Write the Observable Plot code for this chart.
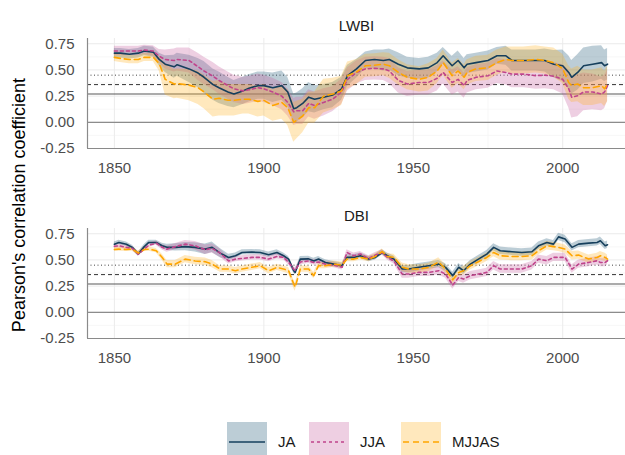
<!DOCTYPE html>
<html><head><meta charset="utf-8">
<script src="https://cdn.jsdelivr.net/npm/d3@7"></script>
<script src="https://cdn.jsdelivr.net/npm/@observablehq/plot@0.6"></script>
<style>
html,body{margin:0;padding:0;background:#fff;}
#wrap{position:relative;width:625px;height:455px;overflow:hidden;font-family:"Liberation Sans",Arial,Helvetica,sans-serif;background:#fff;}
.panel{position:absolute;left:0;}
.panel svg text{font-size:15px !important;font-family:"Liberation Sans",Arial,Helvetica,sans-serif !important;}
#ytitle{position:absolute;left:19px;top:205px;transform:translate(-50%,-50%) rotate(-90deg);font-size:18px;white-space:nowrap;color:#000;}
#legend{position:absolute;top:422px;left:0;}
</style></head><body><div id="wrap"><div id="p1" class="panel" style="top:0"></div><div id="p2" class="panel" style="top:190px"></div><div id="ytitle">Pearson's correlation coefficient</div><div id="legend"></div></div>
<script>
// ---- labels / ticks ----
const seriesNames = ["JA", "JJA", "MJJAS"];
const panelTitles = ["LWBI", "DBI"];
const xTicks = [1850, 1900, 1950, 2000];
const xMinorTicks = [1875, 1925, 1975];
const yTicks = [-0.25, 0, 0.25, 0.5, 0.75];
const yMinorTicks = [-0.125, 0.125, 0.375, 0.625];
const thresholds = [0.27, 0.36, 0.45];
const xDomain = [1841, 2021];
const yDomain = [-0.25, 0.80];

// ---- LWBI panel ----
const lwbiYears = [1850,1852,1855,1858,1860,1863,1865,1867,1870,1871,1875,1878,1880,1883,1885,1888,1890,1893,1895,1898,1900,1903,1906,1908,1910,1911,1913,1915,1917,1920,1923,1926,1928,1931,1934,1937,1940,1942,1945,1948,1952,1955,1958,1960,1963,1965,1967,1968,1971,1975,1978,1981,1983,1987,1991,1994,1997,2000,2002,2003,2005,2007,2010,2013,2014,2015];
const lwbiJA = [0.66,0.66,0.65,0.66,0.68,0.67,0.60,0.555,0.53,0.55,0.51,0.47,0.43,0.36,0.33,0.29,0.27,0.30,0.325,0.35,0.35,0.33,0.35,0.29,0.13,0.14,0.18,0.24,0.22,0.24,0.26,0.32,0.445,0.51,0.59,0.60,0.59,0.60,0.555,0.52,0.51,0.52,0.57,0.635,0.54,0.59,0.52,0.555,0.57,0.59,0.635,0.635,0.59,0.59,0.59,0.59,0.555,0.54,0.476,0.43,0.476,0.54,0.555,0.57,0.54,0.555];
const lwbiJJA = [0.68,0.68,0.68,0.68,0.69,0.68,0.63,0.60,0.59,0.60,0.59,0.53,0.49,0.44,0.40,0.35,0.32,0.30,0.31,0.33,0.32,0.29,0.25,0.19,0.10,0.11,0.11,0.18,0.16,0.19,0.22,0.29,0.41,0.476,0.51,0.515,0.51,0.49,0.40,0.366,0.38,0.38,0.42,0.476,0.38,0.41,0.35,0.40,0.43,0.445,0.49,0.476,0.46,0.46,0.445,0.45,0.44,0.41,0.32,0.24,0.254,0.29,0.29,0.27,0.29,0.35];
const lwbiMJJAS = [0.62,0.61,0.60,0.60,0.62,0.62,0.56,0.41,0.365,0.37,0.355,0.33,0.29,0.22,0.23,0.21,0.21,0.22,0.22,0.20,0.21,0.16,0.19,0.14,0.0,0.02,0.06,0.14,0.14,0.25,0.27,0.30,0.445,0.48,0.54,0.545,0.555,0.54,0.476,0.43,0.41,0.43,0.49,0.57,0.445,0.49,0.43,0.476,0.51,0.52,0.57,0.60,0.59,0.59,0.60,0.59,0.57,0.51,0.38,0.35,0.366,0.33,0.33,0.35,0.32,0.366];
const lwbiJAHalf = [0.045,0.045,0.045,0.045,0.045,0.05,0.06,0.08,0.11,0.11,0.13,0.14,0.15,0.15,0.15,0.14,0.13,0.13,0.13,0.13,0.13,0.14,0.14,0.14,0.14,0.14,0.14,0.14,0.13,0.12,0.12,0.11,0.10,0.09,0.08,0.09,0.10,0.10,0.11,0.10,0.10,0.10,0.09,0.08,0.09,0.09,0.09,0.09,0.09,0.09,0.08,0.09,0.10,0.10,0.10,0.11,0.13,0.15,0.16,0.16,0.17,0.17,0.17,0.16,0.15,0.15];
const lwbiJJAHalf = [0.045,0.045,0.045,0.045,0.045,0.05,0.065,0.09,0.11,0.11,0.12,0.13,0.13,0.13,0.13,0.13,0.13,0.13,0.13,0.13,0.13,0.13,0.13,0.13,0.13,0.13,0.13,0.13,0.13,0.13,0.12,0.12,0.11,0.11,0.11,0.11,0.11,0.12,0.12,0.12,0.12,0.12,0.12,0.11,0.12,0.12,0.12,0.12,0.12,0.12,0.12,0.12,0.13,0.13,0.13,0.13,0.13,0.14,0.18,0.20,0.20,0.18,0.17,0.16,0.16,0.15];
const lwbiMJJASHalf = [0.04,0.04,0.04,0.04,0.04,0.04,0.07,0.15,0.14,0.14,0.15,0.16,0.16,0.17,0.17,0.15,0.15,0.14,0.14,0.15,0.15,0.15,0.16,0.17,0.19,0.18,0.16,0.15,0.15,0.16,0.15,0.14,0.13,0.12,0.11,0.11,0.11,0.12,0.12,0.12,0.12,0.13,0.12,0.12,0.12,0.12,0.12,0.12,0.12,0.12,0.12,0.12,0.13,0.13,0.13,0.13,0.14,0.14,0.16,0.16,0.17,0.17,0.17,0.17,0.17,0.17];

// ---- DBI panel ----
const dbiYears = [1850,1851.5,1854,1856,1858,1860,1861.5,1864,1866,1867.6,1870.4,1873.7,1877,1880.4,1882.7,1885.4,1888.2,1890.5,1892.7,1896,1898.8,1901.6,1904.4,1906.6,1908.3,1910,1910.5,1912.2,1915,1916.7,1918.3,1920.6,1923.4,1926.2,1927.8,1930.1,1932.3,1935.1,1937.3,1939.6,1941.3,1943.5,1946.3,1948.5,1951.8,1955.2,1958.5,1960.8,1963.2,1965.2,1966.8,1969.1,1971.8,1974.6,1976.9,1979.1,1983,1986.3,1989.7,1991.9,1994.7,1996.9,1998.6,2000.8,2003.1,2005.3,2008.7,2011.5,2012.6,2014.2,2015];
const dbiJA = [0.65,0.667,0.65,0.62,0.556,0.627,0.667,0.667,0.635,0.62,0.62,0.627,0.62,0.603,0.62,0.565,0.524,0.54,0.571,0.575,0.571,0.55,0.571,0.54,0.508,0.397,0.38,0.508,0.51,0.49,0.508,0.476,0.46,0.445,0.524,0.524,0.54,0.508,0.524,0.571,0.54,0.508,0.413,0.413,0.43,0.445,0.46,0.429,0.35,0.43,0.397,0.46,0.508,0.556,0.62,0.588,0.578,0.571,0.578,0.635,0.667,0.651,0.72,0.70,0.62,0.651,0.66,0.667,0.683,0.635,0.645];
const dbiJJA = [0.63,0.635,0.62,0.61,0.556,0.603,0.64,0.66,0.62,0.603,0.627,0.651,0.635,0.597,0.61,0.565,0.49,0.508,0.514,0.524,0.524,0.508,0.533,0.524,0.476,0.413,0.40,0.48,0.49,0.476,0.48,0.46,0.45,0.43,0.571,0.54,0.556,0.514,0.546,0.571,0.524,0.49,0.365,0.365,0.381,0.381,0.397,0.365,0.26,0.333,0.317,0.35,0.365,0.381,0.445,0.413,0.413,0.413,0.445,0.508,0.492,0.524,0.524,0.524,0.413,0.46,0.476,0.492,0.476,0.476,0.492];
const dbiMJJAS = [0.60,0.603,0.60,0.603,0.565,0.60,0.603,0.588,0.524,0.46,0.46,0.508,0.49,0.483,0.46,0.413,0.413,0.397,0.413,0.43,0.445,0.397,0.429,0.413,0.397,0.27,0.24,0.413,0.413,0.35,0.445,0.445,0.46,0.45,0.508,0.508,0.524,0.508,0.533,0.58,0.533,0.524,0.43,0.413,0.413,0.429,0.48,0.413,0.31,0.381,0.397,0.445,0.483,0.524,0.571,0.54,0.533,0.533,0.54,0.588,0.635,0.627,0.62,0.603,0.54,0.546,0.508,0.524,0.54,0.524,0.508];
const dbiJAHalf = [0.02,0.02,0.02,0.02,0.02,0.02,0.02,0.02,0.025,0.03,0.035,0.04,0.045,0.05,0.05,0.045,0.03,0.025,0.025,0.025,0.025,0.025,0.025,0.025,0.025,0.025,0.025,0.025,0.025,0.025,0.025,0.025,0.025,0.025,0.025,0.025,0.025,0.025,0.025,0.025,0.025,0.03,0.035,0.035,0.035,0.035,0.035,0.035,0.035,0.035,0.035,0.035,0.035,0.035,0.035,0.035,0.035,0.035,0.035,0.035,0.035,0.035,0.035,0.035,0.035,0.035,0.035,0.035,0.035,0.035,0.035];
const dbiJJAHalf = [0.02,0.02,0.02,0.02,0.02,0.02,0.02,0.02,0.025,0.03,0.03,0.035,0.04,0.045,0.045,0.04,0.03,0.025,0.025,0.025,0.025,0.025,0.025,0.025,0.025,0.025,0.025,0.025,0.025,0.025,0.025,0.025,0.025,0.025,0.025,0.025,0.025,0.025,0.025,0.025,0.025,0.03,0.04,0.04,0.04,0.04,0.04,0.04,0.04,0.04,0.04,0.04,0.04,0.04,0.04,0.04,0.04,0.04,0.04,0.04,0.04,0.04,0.04,0.04,0.04,0.04,0.04,0.04,0.04,0.04,0.04];
const dbiMJJASHalf = [0.02,0.02,0.02,0.02,0.02,0.02,0.02,0.02,0.03,0.035,0.035,0.035,0.035,0.035,0.035,0.03,0.03,0.03,0.03,0.03,0.03,0.03,0.03,0.03,0.03,0.04,0.04,0.03,0.03,0.03,0.03,0.03,0.03,0.03,0.025,0.025,0.025,0.025,0.025,0.025,0.025,0.03,0.04,0.04,0.04,0.04,0.04,0.04,0.04,0.04,0.04,0.04,0.04,0.04,0.04,0.04,0.04,0.04,0.04,0.04,0.04,0.04,0.04,0.04,0.04,0.04,0.04,0.04,0.04,0.04,0.04];

// ---- styling ----
const lineColors = ["#163f5c", "#c0448c", "#ffa500"];
const fillColors = ["#205876", "#c65f9e", "#ffb223"];
const dashes = [undefined, "3,3", "6,4"];
const FONT = '"Liberation Sans", Arial, Helvetica, sans-serif';

function panel(title, years, vals, halves) {
  const rows = vals.map((v, i) => years.map((yr, j) => ({
    year: yr, v: v[j], lo: v[j] - halves[i][j], hi: v[j] + halves[i][j]
  })));
  return Plot.plot({
    width: 625, height: 190,
    marginLeft: 87, marginRight: 0, marginTop: 38, marginBottom: 42,
    style: {fontFamily: FONT, fontSize: "15px", color: "#4d4d4d", background: "transparent"},
    x: {domain: xDomain, label: null},
    y: {domain: yDomain, label: null},
    marks: [
      Plot.gridX(xMinorTicks, {stroke: "#f3f3f3", strokeOpacity: 1, strokeWidth: 0.7}),
      Plot.gridY(yMinorTicks, {stroke: "#f3f3f3", strokeOpacity: 1, strokeWidth: 0.7}),
      Plot.gridX(xTicks, {stroke: "#ebebeb", strokeOpacity: 1, strokeWidth: 1}),
      Plot.gridY(yTicks, {stroke: "#ebebeb", strokeOpacity: 1, strokeWidth: 1}),
      Plot.ruleY([0], {stroke: "#8c8c8c", strokeWidth: 1.3}),
      Plot.ruleY([thresholds[0]], {stroke: "#595959", strokeWidth: 1.2}),
      Plot.ruleY([thresholds[1]], {stroke: "#333", strokeWidth: 1, strokeDasharray: "4,3"}),
      Plot.ruleY([thresholds[2]], {stroke: "#444", strokeWidth: 1, strokeDasharray: "1,2.5"}),
      ...rows.map((r, i) => Plot.areaY(r, {x: "year", y1: "lo", y2: "hi", fill: fillColors[i], fillOpacity: 0.3})),
      ...rows.map((r, i) => Plot.lineY(r, {x: "year", y: "v", stroke: lineColors[i], strokeWidth: 1.6, strokeDasharray: dashes[i]})),
      Plot.ruleX([xDomain[0]], {stroke: "#8a8a8a", strokeWidth: 1.2}),
      Plot.ruleY([yDomain[0]], {stroke: "#8a8a8a", strokeWidth: 1.2}),
      Plot.axisX(xTicks, {tickSize: 0, tickPadding: 14, fontSize: 15, tickFormat: d => String(d), label: null}),
      Plot.axisY(yTicks, {tickSize: 0, tickPadding: 13, fontSize: 15, tickFormat: d => d.toFixed(2), label: null}),
      Plot.text([title], {frameAnchor: "top", dy: -18, fontSize: 15, fill: "#1a1a1a"})
    ]
  });
}

document.getElementById("p1").appendChild(
  panel(panelTitles[0], lwbiYears, [lwbiJA, lwbiJJA, lwbiMJJAS], [lwbiJAHalf, lwbiJJAHalf, lwbiMJJASHalf]));
document.getElementById("p2").appendChild(
  panel(panelTitles[1], dbiYears, [dbiJA, dbiJJA, dbiMJJAS], [dbiJAHalf, dbiJJAHalf, dbiMJJASHalf]));

// ---- legend ----
const keyX = [227, 309, 401];
const svg = d3.select("#legend").append("svg").attr("width", 625).attr("height", 40)
  .style("font-family", FONT);
seriesNames.forEach((name, i) => {
  const g = svg.append("g").attr("transform", `translate(${keyX[i]},0)`);
  g.append("rect").attr("width", 40).attr("height", 40).attr("fill", "#fff");
  g.append("rect").attr("width", 40).attr("height", 40).attr("fill", fillColors[i]).attr("fill-opacity", 0.3);
  g.append("line").attr("x1", 2).attr("x2", 38).attr("y1", 20).attr("y2", 20)
    .attr("stroke", lineColors[i]).attr("stroke-width", 1.6)
    .attr("stroke-dasharray", dashes[i] || null);
  g.append("text").attr("x", 51).attr("y", 20).attr("dy", "0.35em")
    .attr("font-size", 15).attr("fill", "#1a1a1a").text(name);
});
</script>
</body></html>
